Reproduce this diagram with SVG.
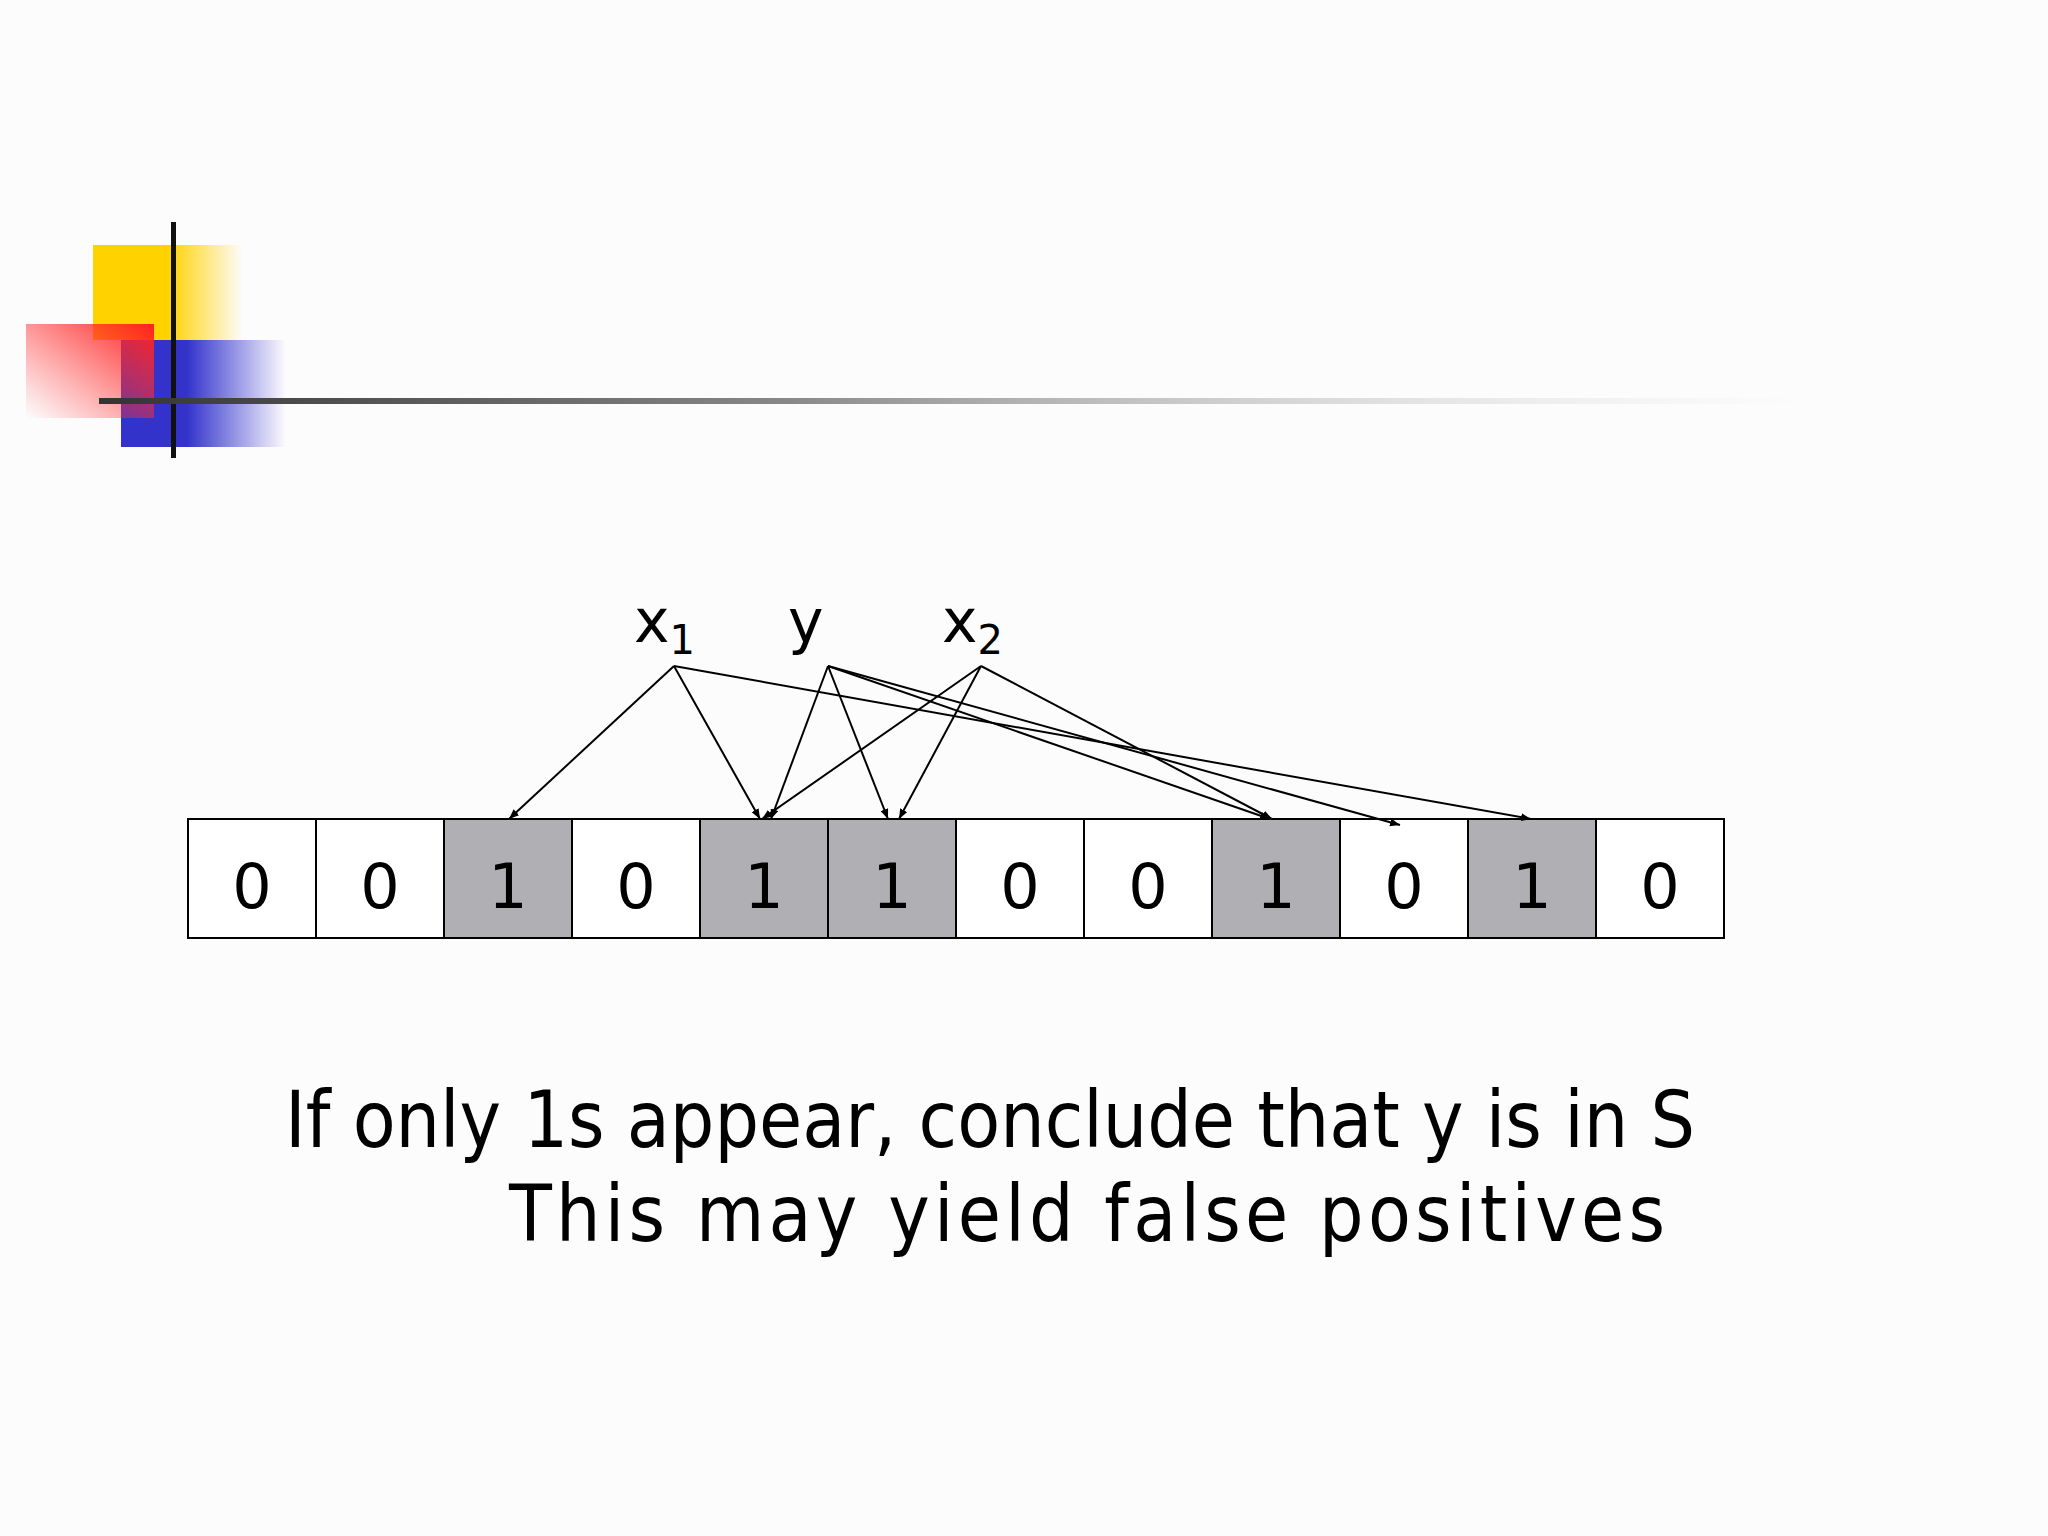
<svg xmlns="http://www.w3.org/2000/svg" width="2048" height="1536" viewBox="0 0 2048 1536">
<defs>
<linearGradient id="gy" x1="0" x2="1"><stop offset="0.5" stop-color="#ffd200"/><stop offset="1" stop-color="#ffd200" stop-opacity="0"/></linearGradient>
<linearGradient id="gr" x1="1" x2="0" y1="0" y2="1"><stop offset="0" stop-color="#ff2020"/><stop offset="1" stop-color="#ff4040" stop-opacity="0"/></linearGradient>
<linearGradient id="gb" x1="0" x2="1"><stop offset="0.4" stop-color="#3333cc"/><stop offset="1" stop-color="#3333cc" stop-opacity="0"/></linearGradient>
<linearGradient id="gl" x1="0" x2="1"><stop offset="0" stop-color="#333"/><stop offset="0.4" stop-color="#888"/><stop offset="1" stop-color="#ddd" stop-opacity="0"/></linearGradient>
<marker id="ah" markerWidth="10" markerHeight="8" refX="10" refY="4" orient="auto" markerUnits="userSpaceOnUse"><path d="M0,0 L10,4 L0,8 z" fill="#000"/></marker>
<style>
.c{stroke:#000;stroke-width:2}
.w{fill:#fff}.g{fill:#b0afb3}
.d{font-family:"DejaVu Sans",sans-serif;font-size:62px;text-anchor:middle}
.l{font-family:"DejaVu Sans",sans-serif;font-size:60px}
.t{font-family:"DejaVu Sans Condensed","DejaVu Sans",sans-serif;font-size:78px}
.e{stroke:#000;stroke-width:2;fill:none;marker-end:url(#ah)}
</style>
</defs>
<rect width="2048" height="1536" fill="#fdfcfd"/>
<g id="logo">
<rect x="93" y="245" width="150" height="95" fill="url(#gy)"/>
<rect x="121" y="340" width="165" height="107" fill="url(#gb)"/>
<rect x="26" y="324" width="128" height="94" fill="url(#gr)"/>
<rect x="171" y="222" width="5" height="236" fill="#111"/>
<rect x="99" y="398" width="1716" height="6" fill="url(#gl)"/>
</g>
<g id="bits">
<rect class="c w" x="188" y="819" width="128" height="119"/><text class="d" x="252" y="908">0</text>
<rect class="c w" x="316" y="819" width="128" height="119"/><text class="d" x="380" y="908">0</text>
<rect class="c g" x="444" y="819" width="128" height="119"/><text class="d" x="508" y="908">1</text>
<rect class="c w" x="572" y="819" width="128" height="119"/><text class="d" x="636" y="908">0</text>
<rect class="c g" x="700" y="819" width="128" height="119"/><text class="d" x="764" y="908">1</text>
<rect class="c g" x="828" y="819" width="128" height="119"/><text class="d" x="892" y="908">1</text>
<rect class="c w" x="956" y="819" width="128" height="119"/><text class="d" x="1020" y="908">0</text>
<rect class="c w" x="1084" y="819" width="128" height="119"/><text class="d" x="1148" y="908">0</text>
<rect class="c g" x="1212" y="819" width="128" height="119"/><text class="d" x="1276" y="908">1</text>
<rect class="c w" x="1340" y="819" width="128" height="119"/><text class="d" x="1404" y="908">0</text>
<rect class="c g" x="1468" y="819" width="128" height="119"/><text class="d" x="1532" y="908">1</text>
<rect class="c w" x="1596" y="819" width="128" height="119"/><text class="d" x="1660" y="908">0</text>
</g>
<g id="x1"><text class="l" x="634" y="642">x<tspan font-size="40" dy="12">1</tspan></text></g>
<g id="y"><text class="l" x="788" y="642">y</text></g>
<g id="x2"><text class="l" x="942" y="642">x<tspan font-size="40" dy="12">2</tspan></text></g>
<g id="connectors">
<line class="e" x1="674" y1="666" x2="509" y2="819"/>
<line class="e" x1="674" y1="666" x2="760" y2="819"/>
<line class="e" x1="674" y1="666" x2="1531" y2="819"/>
<line class="e" x1="828" y1="666" x2="771" y2="819"/>
<line class="e" x1="828" y1="666" x2="888" y2="819"/>
<line class="e" x1="828" y1="666" x2="1270" y2="819"/>
<line class="e" x1="828" y1="666" x2="1400" y2="825"/>
<line class="e" x1="981" y1="666" x2="762" y2="819"/>
<line class="e" x1="981" y1="666" x2="899" y2="819"/>
<line class="e" x1="981" y1="666" x2="1272" y2="819"/>
</g>
<g id="caption">
<text class="t" x="285" y="1147" textLength="1410">If only 1s appear, conclude that y is in S</text>
<text class="t" x="509" y="1241" textLength="1156">This may yield false positives</text>
</g>
</svg>
